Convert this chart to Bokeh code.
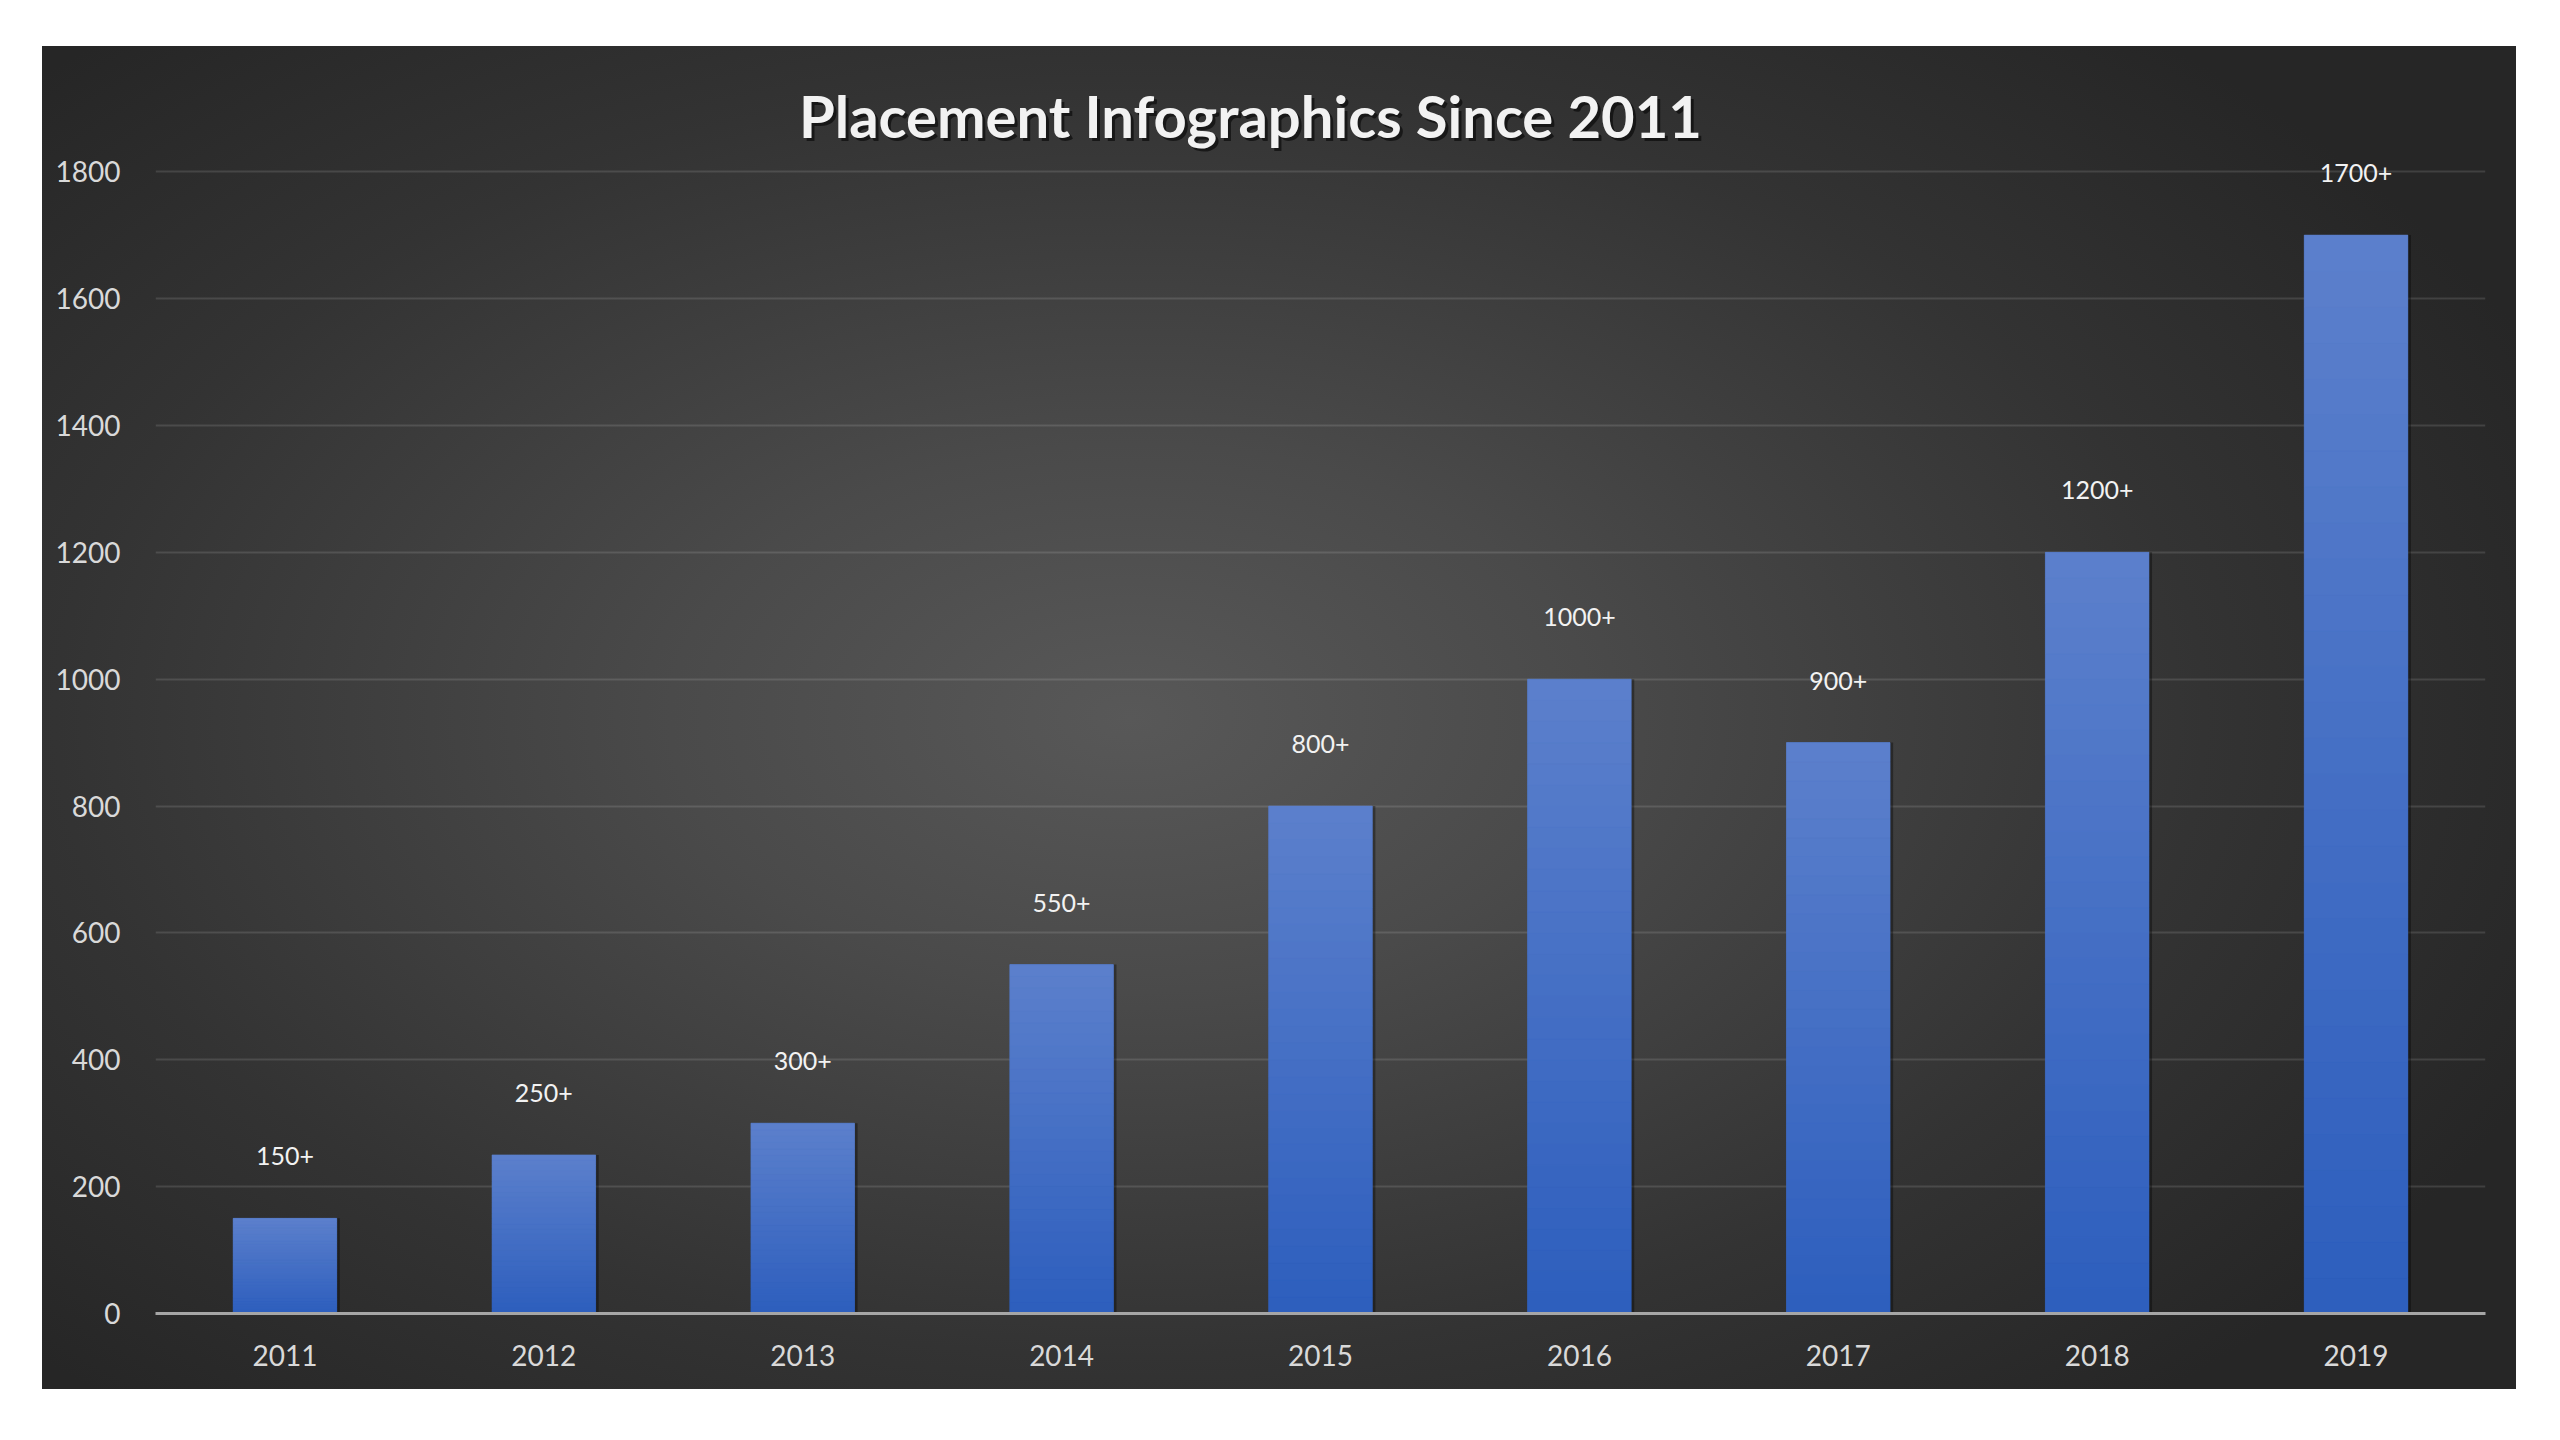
from bokeh.plotting import figure
from bokeh.models import ColumnDataSource, FactorRange, Range1d, LabelSet, Label, SingleIntervalTicker
from bokeh.core.properties import value
from bokeh.transform import dodge
from bokeh.embed import file_html
from bokeh.resources import INLINE

years = ["2011", "2012", "2013", "2014", "2015", "2016", "2017", "2018", "2019"]
placements = [150, 250, 300, 550, 800, 1000, 900, 1200, 1700]
labels = ["150+", "250+", "300+", "550+", "800+", "1000+", "900+", "1200+", "1700+"]
title_text = "Placement Infographics  Since 2011"

FONT = "Lato"
BAR_W = 0.40

p = figure(
    width=2474, height=1343,
    x_range=FactorRange(factors=years, range_padding=0),
    y_range=Range1d(0, 1980),
    output_backend="svg", toolbar_location=None,
    min_border_left=113, min_border_right=31, min_border_top=11, min_border_bottom=76,
    background_fill_alpha=0, border_fill_alpha=0,
    outline_line_color=None,
    styles={"background": "radial-gradient(ellipse 62% 68% at 44% 50%, #585858 0%, #4a4a4a 30%, #333333 70%, #262626 100%)"},
)
p.margin = (46, 0, 0, 42)

# axes
p.yaxis.ticker = SingleIntervalTicker(interval=200)
p.yaxis.axis_line_color = None
p.yaxis.major_tick_line_color = None
p.yaxis.minor_tick_line_color = None
p.yaxis.major_label_standoff = 29
p.yaxis.major_label_text_font = FONT
p.yaxis.major_label_text_font_size = "28px"
p.yaxis.major_label_text_color = "#d9d9d9"

p.xaxis.axis_line_color = "#a6a6a6"
p.xaxis.axis_line_width = 3
p.xaxis.major_tick_line_color = None
p.xaxis.minor_tick_line_color = None
p.xaxis.major_label_standoff = 25
p.xaxis.major_label_text_font = FONT
p.xaxis.major_label_text_font_size = "28px"
p.xaxis.major_label_text_color = "#d9d9d9"

p.xgrid.grid_line_color = None
p.ygrid.grid_line_color = "#ffffff"
p.ygrid.grid_line_alpha = 0.12
p.ygrid.grid_line_width = 2

src = ColumnDataSource(dict(year=years, value=placements, label=labels))

# soft shadow
p.vbar(x=dodge("year", 0.012, range=p.x_range), top="value", width=BAR_W, source=src,
       fill_color="#000000", fill_alpha=0.35, line_color=None)

# main bars
p.vbar(x="year", top="value", width=BAR_W, source=src, fill_color="#4470c6", line_color=None)

# vertical gradient overlay (per bar, derived from the values)
N = 30
c_bot = (0x2d, 0x5e, 0xbd)
c_top = (0x5c, 0x80, 0xcc)
gx, gb, gt, gc = [], [], [], []
for yr, v in zip(years, placements):
    for k in range(N):
        f = (k + 0.5) / N
        col = tuple(int(round(c_bot[j] + (c_top[j] - c_bot[j]) * f)) for j in range(3))
        gx.append(yr)
        gb.append(v * k / N)
        gt.append(v * (k + 1) / N)
        gc.append("#%02x%02x%02x" % col)
gsrc = ColumnDataSource(dict(x=gx, bottom=gb, top=gt, color=gc))
p.vbar(x="x", bottom="bottom", top="top", width=BAR_W, source=gsrc,
       fill_color="color", line_color="color", line_width=0.6)

# data labels
p.add_layout(LabelSet(x="year", y="value", text="label", source=src,
                      y_offset=62, text_align="center", text_baseline="middle",
                      text_font=value(FONT), text_font_size=value("25px"),
                      text_color=value("#f2f2f2")))

# title with shadow
p.add_layout(Label(x=4.5, y=1800, x_offset=-60, y_offset=53, text=title_text,
                   text_align="center", text_baseline="middle", text_font=FONT,
                   text_font_style="bold", text_font_size="58px",
                   text_color="#000000", text_alpha=0.55))
p.add_layout(Label(x=4.5, y=1800, x_offset=-63, y_offset=56, text=title_text,
                   text_align="center", text_baseline="middle", text_font=FONT,
                   text_font_style="bold", text_font_size="58px",
                   text_color="#f2f2f2"))

open("out.html", "w").write(file_html(p, INLINE))
